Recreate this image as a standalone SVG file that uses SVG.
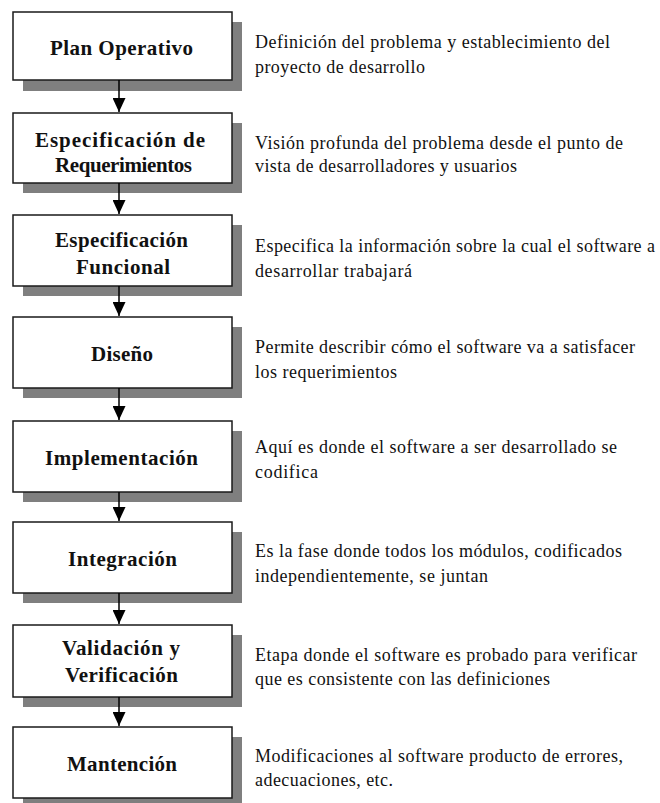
<svg xmlns="http://www.w3.org/2000/svg" width="660" height="803" viewBox="0 0 660 803">
<style>
.sh{fill:#7f7f7f}
.bx{fill:#fff;stroke:#1a1a1a;stroke-width:1.5}
.lb{font-family:"Liberation Serif","Times New Roman",serif;font-weight:bold;font-size:21px;fill:#111}
.ds{font-family:"Liberation Serif","Times New Roman",serif;font-size:18px;fill:#111}
.cn{stroke:#000;stroke-width:1.5;fill:none;marker-end:url(#ah)}
</style>
<defs>
<marker id="ah" markerWidth="14" markerHeight="13" refX="14" refY="6.5" orient="auto" markerUnits="userSpaceOnUse" viewBox="0 0 14 13">
<path d="M0,0 L14,6.5 L0,13 Z" fill="#000"/>
</marker>
</defs>
<rect width="660" height="803" fill="#fff"/>

<g id="n1">
<rect class="sh" x="23" y="22" width="219" height="69"/>
<rect class="bx" x="13" y="12" width="219" height="68"/>
<text class="lb" x="50" y="55" textLength="143" lengthAdjust="spacing">Plan Operativo</text>
<text class="ds" x="255" y="48" textLength="355" lengthAdjust="spacing">Definición del problema y establecimiento del</text>
<text class="ds" x="255" y="73" textLength="170" lengthAdjust="spacing">proyecto de desarrollo</text>
</g>
<g id="n2">
<rect class="sh" x="23" y="123" width="219" height="70"/>
<rect class="bx" x="13" y="113" width="219" height="70"/>
<text class="lb" x="35" y="147" textLength="170" lengthAdjust="spacing">Especificación de</text>
<text class="lb" x="55" y="172" textLength="137" lengthAdjust="spacing">Requerimientos</text>
<text class="ds" x="255" y="149" textLength="368" lengthAdjust="spacing">Visión profunda del problema desde el punto de</text>
<text class="ds" x="255" y="172" textLength="262" lengthAdjust="spacing">vista de desarrolladores y usuarios</text>
</g>
<g id="n3">
<rect class="sh" x="23" y="225" width="219" height="71"/>
<rect class="bx" x="13" y="215" width="219" height="71"/>
<text class="lb" x="55" y="247" textLength="133" lengthAdjust="spacing">Especificación</text>
<text class="lb" x="76" y="274" textLength="94" lengthAdjust="spacing">Funcional</text>
<text class="ds" x="255" y="252" textLength="400" lengthAdjust="spacing">Especifica la información sobre la cual el software a</text>
<text class="ds" x="255" y="277" textLength="157" lengthAdjust="spacing">desarrollar trabajará</text>
</g>
<g id="n4">
<rect class="sh" x="23" y="327" width="219" height="71"/>
<rect class="bx" x="13" y="317" width="219" height="71"/>
<text class="lb" x="91" y="361" textLength="62" lengthAdjust="spacing">Diseño</text>
<text class="ds" x="255" y="353" textLength="380" lengthAdjust="spacing">Permite describir cómo el software va a satisfacer</text>
<text class="ds" x="255" y="378" textLength="142" lengthAdjust="spacing">los requerimientos</text>
</g>
<g id="n5">
<rect class="sh" x="23" y="431" width="219" height="71"/>
<rect class="bx" x="13" y="421" width="219" height="71"/>
<text class="lb" x="45" y="465" textLength="153" lengthAdjust="spacing">Implementación</text>
<text class="ds" x="255" y="453" textLength="362" lengthAdjust="spacing">Aquí es donde el software a ser desarrollado se</text>
<text class="ds" x="255" y="478" textLength="63" lengthAdjust="spacing">codifica</text>
</g>
<g id="n6">
<rect class="sh" x="23" y="532" width="219" height="71"/>
<rect class="bx" x="13" y="522" width="219" height="71"/>
<text class="lb" x="68" y="566" textLength="109" lengthAdjust="spacing">Integración</text>
<text class="ds" x="255" y="557" textLength="367" lengthAdjust="spacing">Es la fase donde todos los módulos, codificados</text>
<text class="ds" x="255" y="582" textLength="233" lengthAdjust="spacing">independientemente, se juntan</text>
</g>
<g id="n7">
<rect class="sh" x="23" y="635" width="219" height="72"/>
<rect class="bx" x="13" y="625" width="219" height="72"/>
<text class="lb" x="62" y="655" textLength="118" lengthAdjust="spacing">Validación y</text>
<text class="lb" x="65" y="682" textLength="113" lengthAdjust="spacing">Verificación</text>
<text class="ds" x="255" y="661" textLength="382" lengthAdjust="spacing">Etapa donde el software es probado para verificar</text>
<text class="ds" x="255" y="685" textLength="295" lengthAdjust="spacing">que es consistente con las definiciones</text>
</g>
<g id="n8">
<rect class="sh" x="23" y="737" width="219" height="66"/>
<rect class="bx" x="13" y="727" width="219" height="71"/>
<text class="lb" x="67" y="771" textLength="110" lengthAdjust="spacing">Mantención</text>
<text class="ds" x="255" y="762" textLength="368" lengthAdjust="spacing">Modificaciones al software producto de errores,</text>
<text class="ds" x="255" y="786" textLength="138" lengthAdjust="spacing">adecuaciones, etc.</text>
</g>

<g id="connectors">
<line class="cn" x1="119" y1="80" x2="119" y2="112"/>
<line class="cn" x1="119" y1="183" x2="119" y2="214"/>
<line class="cn" x1="119" y1="286" x2="119" y2="316"/>
<line class="cn" x1="119" y1="388" x2="119" y2="420"/>
<line class="cn" x1="119" y1="492" x2="119" y2="521"/>
<line class="cn" x1="119" y1="593" x2="119" y2="624"/>
<line class="cn" x1="119" y1="697" x2="119" y2="726"/>
</g>
</svg>
